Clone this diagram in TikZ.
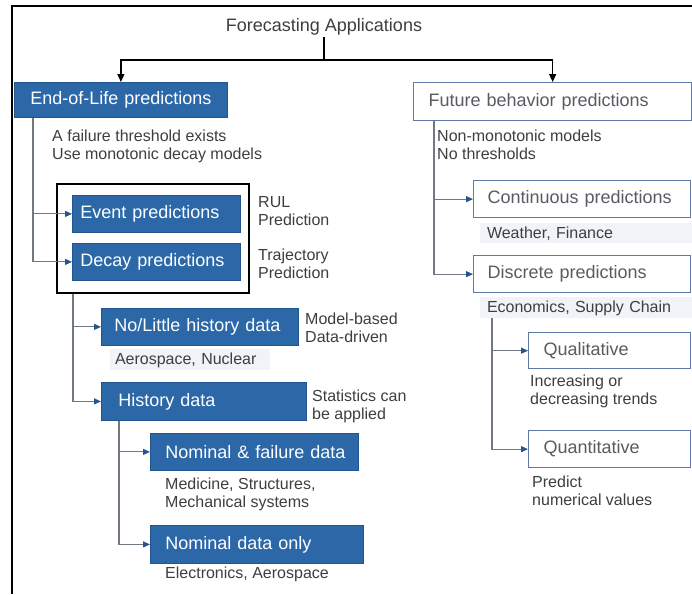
\documentclass[tikz,border=0pt]{standalone}
\usepackage{fontspec}
\setmainfont{Liberation Sans}
\usetikzlibrary{arrows.meta}

\definecolor{boxblue}{RGB}{44,104,168}
\definecolor{boxedge}{RGB}{34,84,142}
\definecolor{paleedge}{RGB}{96,122,168}
\definecolor{linegray}{RGB}{112,120,130}
\definecolor{tipblue}{RGB}{38,84,140}
\definecolor{txtgray}{RGB}{62,62,62}
\definecolor{boxtxt}{RGB}{88,92,98}
\definecolor{band}{RGB}{240,243,247}

\newcommand\titlefont{\fontsize{18}{21}\selectfont}
\newcommand\boxfont{\fontsize{18}{21}\selectfont}
\newcommand\notefont{\fontsize{16}{18}\selectfont}

\begin{document}
% note nodes are anchored at the baseline of their last line
\begin{tikzpicture}[x=1pt,y=-1pt,
  bluebox/.style={draw=boxedge, line width=0.8pt, fill=boxblue, text=white,
    font=\boxfont, anchor=north west, align=left, inner ysep=0pt},
  whitebox/.style={draw=paleedge, line width=1.3pt, fill=white, text=boxtxt,
    font=\boxfont, anchor=north west, align=left, inner ysep=0pt},
  note/.style={font=\notefont, text=txtgray, align=left, anchor=base west, inner sep=0pt},
  bandnote/.style={note, fill=band, inner xsep=0pt, inner ysep=3pt, outer sep=0pt},
  conn/.style={draw=linegray, line width=1.1pt,
    -{Triangle[length=7pt,width=6pt,color=tipblue]}},
  feedline/.style={draw=black, line width=1.3pt},
  feed/.style={feedline, -{Triangle[length=8pt,width=7pt]}}
]
\useasboundingbox (0,0) rectangle (692,594);

% outer frame (top and left edges)
\draw[line width=2pt] (12,594) -- (12,6.5) -- (692,6.5);

% title and the two main branches
\node[font=\titlefont, text=txtgray, anchor=base, inner sep=1pt] (title) at (324,32) {Forecasting Applications};

\node[bluebox, text width=181pt, inner xsep=16pt, minimum height=35pt] (eol) at (14,82) {\mbox{End-of-Life predictions}};
\node[whitebox, text width=248pt, inner xsep=15pt, minimum height=38pt] (fut) at (413,82) {\mbox{Future behavior predictions}};

\coordinate (fork) at (324,60);
\draw[feedline] (title.south) -- (fork);
\draw[feed] (fork) -| (eol.north);
\draw[feed] (fork) -| (fut.north);

% left branch: end-of-life predictions
\node[note] (eolnote) at (52,159) {A failure threshold exists\\Use monotonic decay models};

\node[draw=black, line width=2pt, anchor=north west, minimum width=192pt, minimum height=109pt, inner sep=0pt] (grp) at (56,183) {};
\node[bluebox, text width=152pt, inner xsep=8pt, minimum height=37pt] (event) at (72,195) {\mbox{Event predictions}};
\node[bluebox, text width=152pt, inner xsep=8pt, minimum height=37pt] (decay) at (72,243) {\mbox{Decay predictions}};
\node[note] (rul) at (258,225) {RUL\\Prediction};
\node[note] (traj) at (258,278) {Trajectory\\Prediction};

\draw[conn] ([xshift=19pt]eol.south west) |- (event.west);
\draw[conn] ([xshift=19pt]eol.south west) |- (decay.west);

\node[bluebox, text width=171pt, inner xsep=13pt, minimum height=37pt] (nolittle) at (101,308) {\mbox{No/Little history data}};
\node[note] (mb) at (305,342) {Model-based\\Data-driven};
\node[bandnote, minimum width=160pt, text width=150pt, inner xsep=5pt] (aero) at (110,364) {Aerospace, Nuclear};

\node[bluebox, text width=171pt, inner xsep=17pt, minimum height=38pt] (history) at (101,382) {\mbox{History data}};
\node[note] (stat) at (312,419) {Statistics can\\be applied};

\draw[conn] ([xshift=17pt]grp.south west) |- (nolittle.west);
\draw[conn] ([xshift=17pt]grp.south west) |- (history.west);

\node[bluebox, text width=178pt, inner xsep=15pt, minimum height=37pt] (nomfail) at (150,433) {\mbox{Nominal \& failure data}};
\node[note] (med) at (165,507) {Medicine, Structures,\\Mechanical systems};
\node[bluebox, text width=183pt, inner xsep=15pt, minimum height=38pt] (nomonly) at (150,525) {\mbox{Nominal data only}};
\node[note] (elec) at (165,578) {Electronics, Aerospace};

\draw[conn] ([xshift=18pt]history.south west) |- (nomfail.west);
\draw[conn] ([xshift=18pt]history.south west) |- (nomonly.west);

% right branch: future behavior predictions
\node[note] (futnote) at (437,159) {Non-monotonic models\\No thresholds};

\node[whitebox, text width=189pt, inner xsep=14pt, minimum height=37pt] (cont) at (473,180) {\mbox{Continuous predictions}};
\node[bandnote, minimum width=217pt, text width=203pt, inner xsep=7pt] (weather) at (480,238) {Weather, Finance};
\node[whitebox, text width=189pt, inner xsep=14pt, minimum height=37pt] (disc) at (473,255) {\mbox{Discrete predictions}};
\node[bandnote, minimum width=217pt, text width=203pt, inner xsep=7pt] (econ) at (480,312) {Economics, Supply Chain};

\draw[conn] ([xshift=21pt]fut.south west) |- (cont.west);
\draw[conn] ([xshift=21pt]fut.south west) |- (disc.west);

\node[whitebox, text width=132pt, inner xsep=15pt, minimum height=36pt] (qual) at (528,332) {\mbox{Qualitative}};
\node[note] (trend) at (530,404) {Increasing or\\decreasing trends};
\node[whitebox, text width=132pt, inner xsep=15pt, minimum height=37pt] (quant) at (528,430) {\mbox{Quantitative}};
\node[note] (numval) at (532,505) {Predict\\numerical values};

\draw[conn] ([xshift=12pt]econ.south west) |- (qual.west);
\draw[conn] ([xshift=12pt]econ.south west) |- (quant.west);
\end{tikzpicture}
\end{document}
